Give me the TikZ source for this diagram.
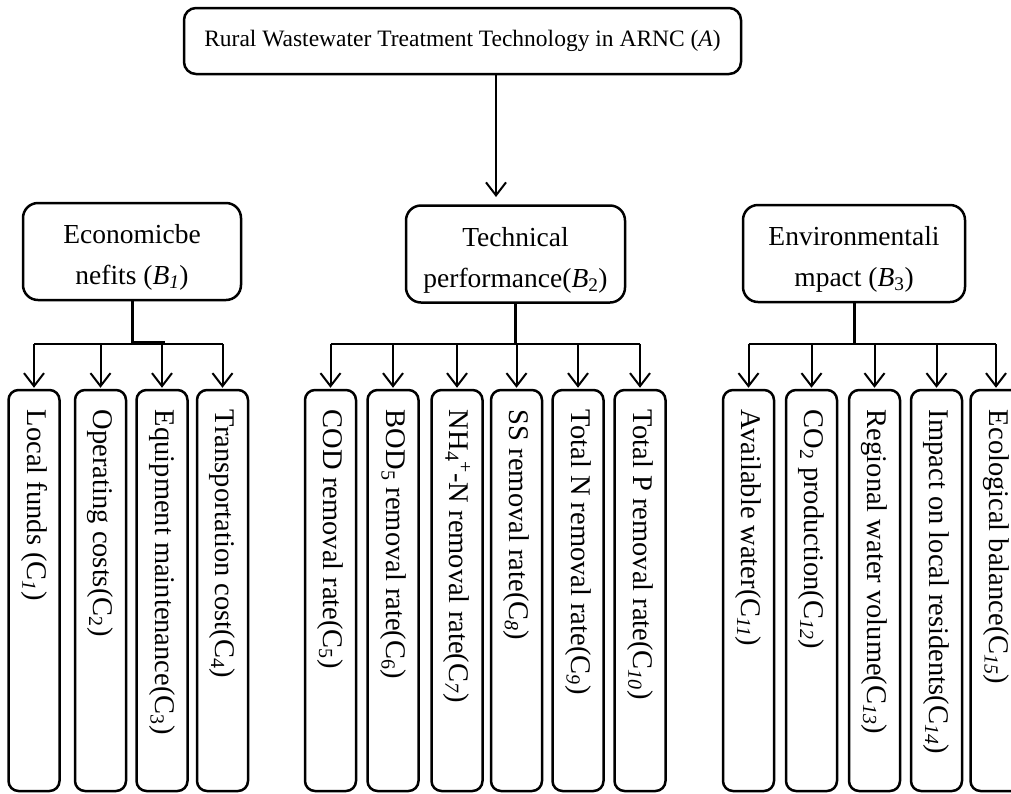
\documentclass[tikz,border=0pt]{standalone}
\usepackage{fontspec}
\setmainfont{Liberation Serif}
\usetikzlibrary{arrows.meta,calc}
\tikzset{
  titlebox/.style={draw,line width=2.5pt,rounded corners=12pt,minimum width=557pt,minimum height=66pt,inner sep=0pt,font=\fontsize{23.5}{28}\selectfont},
  bbox/.style={draw,line width=2.5pt,rounded corners=15pt,minimum width=218pt,minimum height=97pt,inner sep=0pt},
  btext/.style={inner sep=0pt,align=center,font=\fontsize{27.5}{41}\selectfont},
  cbox/.style={draw,line width=2.5pt,rounded corners=10pt,minimum width=51pt,minimum height=401pt,inner sep=0pt},
  ctext/.style={rotate=-90,anchor=west,inner sep=0pt,font=\fontsize{28.5}{34}\selectfont},
  stem/.style={line width=3pt},
  bar/.style={line width=2.5pt},
  arr/.style={line width=2pt,-{Straight Barb[length=13pt,width=20pt,line width=2pt]}},
}
\begin{document}
\begin{tikzpicture}[x=1pt,y=-1pt]
\useasboundingbox (0,0) rectangle (1011,793);
\clip (0,0) rectangle (1011,793);
% title
\node[titlebox] (A) at (462.5,41) {Rural Wastewater Treatment Technology in ARNC (\textit{A})};
% criteria
\node[bbox] (B1) at (132,251.5) {};
\node[bbox,minimum width=219pt] (B2) at (515.5,254) {};
\node[bbox,minimum width=222pt] (B3) at (854,253.5) {};
\node[btext] (B1t) at ($(B1.center)+(0,6)$) {Economicbe\\nefits (\textit{B}\textsubscript{\textit{1}})};
\node[btext] (B2t) at ($(B2.center)+(0,6)$) {Technical\\performance(\textit{B}\textsubscript{2})};
\node[btext] (B3t) at ($(B3.center)+(0,6)$) {Environmentali\\mpact (\textit{B}\textsubscript{3})};
% arrow from A
\coordinate (atip) at (496,197);
\draw[arr] (A.south -| atip) -- (atip);
% sub-criteria boxes
\foreach \n/\x in {1/34,2/100.5,3/162,4/222.5,5/330.5,6/393,7/457,8/516.5,9/578,10/640,11/748.5,12/811.5,13/874.5,14/936.5,15/996}{
  \node[cbox] (c\n) at (\x,590.5) {};
}
\node[ctext] (c1t) at ($(c1.north)+(0,21)$) {Local funds (C\textsubscript{\textit{1}})};
\node[ctext] (c2t) at ($(c2.north)+(0,21)$) {Operating costs(C\textsubscript{2})};
\node[ctext] (c3t) at ($(c3.north)+(0,21)$) {Equipment maintenance(C\textsubscript{3})};
\node[ctext] (c4t) at ($(c4.north)+(0,21)$) {Transportation cost(C\textsubscript{4})};
\node[ctext] (c5t) at ($(c5.north)+(0,21)$) {COD removal rate(C\textsubscript{5})};
\node[ctext] (c6t) at ($(c6.north)+(0,21)$) {BOD\textsubscript{5} removal rate(C\textsubscript{6})};
\node[ctext] (c7t) at ($(c7.north)+(0,21)$) {NH\textsubscript{4}\textsuperscript{+}-N removal rate(C\textsubscript{\textit{7}})};
\node[ctext] (c8t) at ($(c8.north)+(0,21)$) {SS removal rate(C\textsubscript{\textit{8}})};
\node[ctext] (c9t) at ($(c9.north)+(0,21)$) {Total N removal rate(C\textsubscript{\textit{9}})};
\node[ctext] (c10t) at ($(c10.north)+(0,21)$) {Total P removal rate(C\textsubscript{\textit{10}})};
\node[ctext] (c11t) at ($(c11.north)+(0,21)$) {Available water(C\textsubscript{\textit{11}})};
\node[ctext] (c12t) at ($(c12.north)+(0,21)$) {CO\textsubscript{2} production(C\textsubscript{\textit{12}})};
\node[ctext] (c13t) at ($(c13.north)+(0,21)$) {Regional water volume(C\textsubscript{\textit{13}})};
\node[ctext] (c14t) at ($(c14.north)+(0,21)$) {Impact on local residents(C\textsubscript{\textit{14}})};
\node[ctext] (c15t) at ($(c15.north)+(0,21)$) {Ecological balance(C\textsubscript{\textit{15}})};
% B1 group
\draw[stem] (B1.south) -- ($(B1.south |- c1.north)+(0,-46.5)$) -- ($(c3.north)+(3,-46.5)$);
\draw[bar] ($(c1.north)+(0,-45)$) -- ($(c4.north)+(0,-45)$);
% B2 group
\draw[stem] (B2.south) -- ($(B2.south |- c5.north)+(0,-45)$);
\draw[bar] ($(c5.north)+(0,-45)$) -- ($(c10.north)+(0,-45)$);
% B3 group
\draw[stem] (B3.south) -- ($(B3.south |- c11.north)+(0,-45)$);
\draw[bar] ($(c11.north)+(0,-45)$) -- ($(c15.north)+(0,-45)$);
% arrows to sub-criteria
\foreach \n in {1,...,15}{
  \draw[arr] ($(c\n.north)+(0,-45)$) -- ($(c\n.north)+(0,-1)$);
}
\end{tikzpicture}
\end{document}
